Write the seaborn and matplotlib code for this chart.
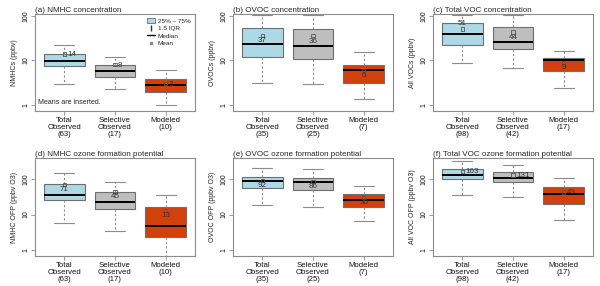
import numpy as np
import pandas as pd
import matplotlib
matplotlib.use("Agg")
import matplotlib.pyplot as plt
from matplotlib.patches import Patch
from matplotlib.lines import Line2D
import seaborn as sns

sns.set_theme(style="ticks")
plt.rcParams['font.family'] = ['Liberation Sans', 'DejaVu Sans']

# Groups and counts per panel
groups = ["Total\nObserved", "Selective\nObserved", "Modeled"]
counts_conc = [(63, 17, 10), (35, 25, 7), (98, 42, 17)]
titles = ["(a) NMHC concentration", "(b) OVOC concentration", "(c) Total VOC concentration",
          "(d) NMHC ozone formation potential", "(e) OVOC ozone formation potential",
          "(f) Total VOC ozone formation potential"]
ylabels = ["NMHCs (ppbv)", "OVOCs (ppbv)", "All VOCs (ppbv)",
           "NMHC OFP (ppbv O3)", "OVOC OFP (ppbv O3)", "All VOC OFP (ppbv O3)"]

# five-number summaries per group: [whisker low, Q1, median, Q3, whisker high]
nmhc_conc = [[2.9, 7.4, 9.8, 13.8, 22], [2.3, 4.3, 5.8, 7.8, 11.9], [1.0, 1.95, 2.8, 3.9, 6.0]]
ovoc_conc = [[3.1, 12.1, 23, 53, 105], [2.95, 11, 21.2, 52, 105], [1.35, 3.1, 6.0, 8.1, 15.2]]
tvoc_conc = [[8.9, 22.3, 38.8, 68.5, 105], [6.7, 18.1, 26.4, 57.5, 105], [2.45, 5.8, 10, 11.6, 16.6]]
nmhc_ofp = [[5.7, 24.9, 34.5, 74, 148], [3.5, 14.5, 21.8, 42, 80], [0.5, 2.4, 4.9, 16.2, 36]]
ovoc_ofp = [[18.7, 55.6, 90, 116, 200], [16.8, 50, 80.5, 107, 192], [6.6, 16.2, 25.5, 38, 65]]
tvoc_ofp = [[36, 100, 130, 192, 316], [31, 80.5, 110, 155, 244], [7.1, 20, 39, 59, 104]]

# means (inserted as labels)
means = [[14, 8, 3], [37, 36, 6], [51, 44, 9], [71, 45, 13], [92, 86, 30], [163, 131, 43]]

summaries = [nmhc_conc, ovoc_conc, tvoc_conc, nmhc_ofp, ovoc_ofp, tvoc_ofp]
counts = counts_conc + counts_conc
# where the mean label sits relative to its marker
label_pos = [["right"] * 3, ["below"] * 3, ["above", "below", "below"],
             ["below"] * 3, ["below"] * 3, ["right"] * 3]

colors = ["#ADD8E6", "#BEBEBE", "#D2400C"]
frame_col = "#8C8C8C"

fig = plt.figure(figsize=(6.0, 2.86), dpi=100)
lefts = [35 / 600, 233 / 600, 433 / 600]
w = 160 / 600
rows = [((286 - 111) / 286, 97 / 286, (0.73, 111)), (30 / 286, 98 / 286, (0.68, 390))]

for i in range(6):
    r, c = divmod(i, 3)
    bottom, h, ylim = rows[r]
    ax = fig.add_axes([lefts[c], bottom, w, h])
    recs = []
    for g, summ in zip(groups, summaries[i]):
        for v in summ:
            recs.append({"group": g, "value": v})
    df = pd.DataFrame(recs)
    sns.boxplot(data=df, x="group", y="value", hue="group", palette=colors, legend=False,
                order=groups, whis=np.inf, width=0.8, log_scale=True, ax=ax,
                linecolor="#6E6E6E", linewidth=0.8, saturation=1,
                whiskerprops=dict(linestyle=(0, (2, 2)), color="#8C8C8C"),
                capprops=dict(color="#8C8C8C"),
                medianprops=dict(color="black", linewidth=1.4))
    # mean markers
    xs = np.arange(3)
    ax.scatter(xs, means[i], marker="s", s=6, facecolor="none", edgecolor="#555555",
               linewidth=0.6, zorder=5)
    for x, m, pos in zip(xs, means[i], label_pos[i]):
        if pos == "right":
            ax.text(x + 0.06, m * 0.97, str(m), fontsize=5.8, color="#333333",
                    ha="left", va="center", zorder=6)
        elif pos == "below":
            ax.text(x, m / 1.1, str(m), fontsize=5.8, color="#333333",
                    ha="center", va="top", zorder=6)
        else:
            ax.text(x, m * 1.1, str(m), fontsize=5.8, color="#333333",
                    ha="center", va="bottom", zorder=6)

    ax.set_ylim(*ylim)
    ax.set_xlim(-0.58, 2.58)
    ax.set_yticks([1, 10, 100])
    ax.set_yticklabels(["1", "10", "100"], rotation=90, va="center", fontsize=5)
    ax.minorticks_off()
    ax.set_xticks(xs)
    ax.set_xticklabels([f"{g}\n({n})" for g, n in zip(groups, counts[i])],
                       fontsize=5.6, linespacing=1.05)
    ax.set_xlabel("")
    ax.set_ylabel(ylabels[i], fontsize=5, labelpad=3)
    ax.set_title(titles[i], loc="left", fontsize=5.8, pad=1.5)
    ax.tick_params(axis="both", length=3, width=0.6, colors=frame_col, pad=1.0,
                   labelcolor="#111111")
    for s in ax.spines.values():
        s.set_color(frame_col)
        s.set_linewidth(0.8)

    if i == 0:
        handles = [Patch(facecolor=colors[0], edgecolor="#6E6E6E", linewidth=0.6),
                   Line2D([], [], marker="$\\mathrm{I}$", color="#333333", linestyle="none",
                          markersize=5),
                   Line2D([], [], color="black", linewidth=1),
                   Line2D([], [], marker="s", color="#888888", linestyle="none",
                          markersize=1.8)]
        ax.legend(handles, ["25% \u2013 75%", "1.5 IQR", "Median", "Mean"],
                  loc="upper right", frameon=False, fontsize=4.6, handlelength=1.2,
                  handletextpad=0.5, labelspacing=0.3, borderaxespad=0.3)
        ax.text(0.02, 0.05, "Means are inserted.", transform=ax.transAxes,
                fontsize=5, ha="left", va="bottom")

fig.savefig("out.png", dpi=100)
